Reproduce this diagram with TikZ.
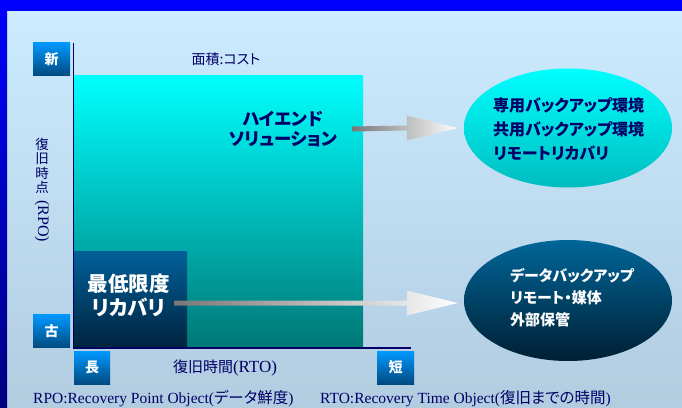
\documentclass[tikz,border=0pt]{standalone}
\usepackage{fontspec}
\setmainfont{Liberation Serif}
\newfontfamily\jp{Noto Sans CJK JP}[RawFeature=+palt]
\usetikzlibrary{shapes.geometric,calc}
\definecolor{bgtop}{HTML}{CCEBFF}
\definecolor{bgbot}{HTML}{B2CCE0}
\definecolor{bandtop}{HTML}{0000FF}
\definecolor{bandbot}{HTML}{000080}
\definecolor{boxtop}{HTML}{0099FF}
\definecolor{boxbot}{HTML}{004A80}
\definecolor{bigtop}{HTML}{00FFFF}
\definecolor{bigbot}{HTML}{007876}
\definecolor{smalltop}{HTML}{00609A}
\definecolor{smallbot}{HTML}{00243F}
\definecolor{ellatop}{HTML}{00FFFF}
\definecolor{ellabot}{HTML}{00BDBF}
\definecolor{ellbtop}{HTML}{006699}
\definecolor{ellbbot}{HTML}{001F33}
\definecolor{txt}{HTML}{000066}
\definecolor{arrgray}{HTML}{777777}
\tikzset{
  tagbox/.style={rectangle, inner sep=0pt, minimum width=37pt, minimum height=33pt,
    top color=boxtop, bottom color=boxbot, text=white, font=\jp\bfseries\fontsize{14}{14}\selectfont},
  axisline/.style={draw=txt, line width=1.6pt},
  ellbox/.style={ellipse, inner sep=0pt, minimum width=208pt, minimum height=119pt},
  arrowfill/.style={left color=arrgray, right color=white},
  lbl/.style={text=txt, inner sep=0pt},
}
\begin{document}
\begin{tikzpicture}[x=1pt,y=-1pt]
\useasboundingbox (0,0) rectangle (682,407);
% background
\shade[top color=bgtop, bottom color=bgbot] (7,11) rectangle (682,407);
\shade[top color=bandtop, bottom color=bandbot] (0,0) rectangle (7,407);
\fill[bandtop] (0,0) rectangle (682,11);
% areas
\node[rectangle, inner sep=0pt, minimum width=289pt, minimum height=272pt, top color=bigtop, bottom color=bigbot] (big) at (218.5,211) {};
\node[rectangle, inner sep=0pt, minimum width=113pt, minimum height=96pt, top color=smalltop, bottom color=smallbot] (small) at (130.5,299) {};
% axes
\coordinate (otop) at (73.5,43);
\coordinate (orig) at (73.5,348);
\coordinate (xend) at (411,348);
\draw[axisline] (otop) -- (orig) -- (xend);
% tag boxes
\node[tagbox] (new) at (51.5,59) {新};
\node[tagbox] (old) at (51.5,331) {古};
\node[tagbox, minimum width=36pt] (long) at (92,367.5) {長};
\node[tagbox] (short) at (395.5,367.5) {短};
% axis labels
\node[lbl, font=\jp\fontsize{14}{14}\selectfont] (cost) at (226,59) {面積:コスト};
\node[lbl, font=\jp\fontsize{13.5}{14.5}\selectfont, align=center] (rpoj) at (42,166) {復\\旧\\時\\点};
\node[lbl, rotate=-90, font=\fontsize{16}{16}\selectfont] (rpoe) at (42,221) {(RPO)};
\node[lbl, font=\fontsize{17}{17}\selectfont] (rto) at (225,368) {{\jp\fontsize{15}{15}\selectfont 復旧時間}(RTO)};
% area texts
\node[lbl, font=\jp\bfseries\fontsize{17.5}{20}\selectfont, align=center] (hiend) at (283,129) {ハイエンド\\ソリューション};
\node[lbl, text=white, font=\jp\bfseries\fontsize{20.5}{24}\selectfont, align=center] (minrec) at (128.5,295) {最低限度\\リカバリ};
% ellipses
\node[ellbox, top color=ellatop, bottom color=ellabot] (ella) at (568,128) {};
\node[ellbox, minimum height=121pt, top color=ellbtop, bottom color=ellbbot] (ellb) at (568,300.5) {};
\node[lbl, anchor=west, align=left, font=\jp\bfseries\fontsize{16}{24}\selectfont] (ellatxt) at (493,129) {専用バックアップ環境\\共用バックアップ環境\\リモートリカバリ};
\node[lbl, anchor=west, align=left, text=white, font=\jp\bfseries\fontsize{15}{22}\selectfont] (ellbtxt) at (510,298) {データバックアップ\\リモート・媒体\\外部保管};
% arrows
\coordinate (a1s) at (352,129);
\coordinate (a1e) at ($(ella.west)+(-6,0)$);
\coordinate (a2s) at (174,303);
\coordinate (a2e) at ($(ellb.west)+(-6,2.5)$);
\foreach \s/\e in {a1s/a1e,a2s/a2e}{
  \shade[arrowfill] ($(\s)+(0,-2.5)$) -- ($(\e)+(-51,-2.5)$) -- ($(\e)+(-51,-12.5)$) -- (\e)
    -- ($(\e)+(-51,12.5)$) -- ($(\e)+(-51,2.5)$) -- ($(\s)+(0,2.5)$) -- cycle;
}
% footnotes
\node[lbl, anchor=west, font=\fontsize{15.5}{15.5}\selectfont] (fn1) at (33,399) {RPO:Recovery Point Object({\jp データ鮮度})};
\node[lbl, anchor=west, font=\fontsize{15.5}{15.5}\selectfont] (fn2) at (320,399) {RTO:Recovery Time Object({\jp 復旧までの時間})};
\end{tikzpicture}
\end{document}
